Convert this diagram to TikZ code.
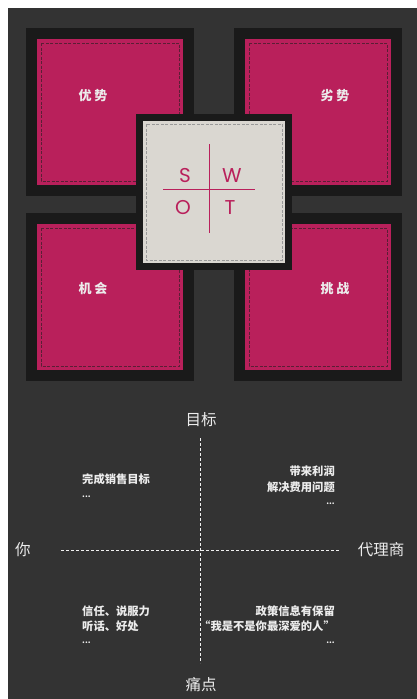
\documentclass[tikz,border=0pt]{standalone}
\usepackage{fontspec}
\setmainfont{Noto Sans CJK SC}
\newfontfamily\latinfont{Poppins}
\definecolor{bg}{HTML}{333333}
\definecolor{framec}{HTML}{1A1A1A}
\definecolor{rose}{HTML}{B9205B}
\definecolor{paper}{HTML}{DAD7D1}
\definecolor{txt}{HTML}{ECECEC}
\definecolor{stitch}{HTML}{5A1F35}
\tikzset{
  quadlabel/.style={text=txt, font=\bfseries\fontsize{13}{13}\selectfont, inner sep=0pt},
  axislabel/.style={text=txt, font=\fontsize{15.5}{16}\selectfont, inner sep=0pt},
  smalltxt/.style={text=txt, font=\bfseries\fontsize{11.3}{12}\selectfont, inner sep=0pt},
  dots/.style={text=txt!75, font=\bfseries\fontsize{8}{8}\selectfont, inner sep=0pt},
  swotletter/.style={text=rose, font=\latinfont\fontsize{20}{20}\selectfont, inner sep=0pt},
  axisline/.style={draw=txt!80, line width=0.8pt, dash pattern=on 3pt off 2pt},
  stitchline/.style={draw=stitch, line width=0.5pt, dash pattern=on 3pt off 1.5pt}
}
\begin{document}
\begin{tikzpicture}[x=1pt,y=-1pt]
\useasboundingbox (0,0) rectangle (417,699);
\fill[white] (0,0) rectangle (417,699);
\fill[bg] (8,8) rectangle (417,699);
% four pink squares
\foreach \x/\y in {26/28, 234/28, 26/213, 234/213}{
  \fill[framec] (\x,\y) rectangle ++(168,168);
  \fill[rose] (\x+11,\y+11) rectangle ++(146,146);
  \draw[stitchline] (\x+15,\y+15) rectangle ++(138,138);
}
% centre square
\fill[framec] (136,114) rectangle (292,270);
\fill[paper] (143,121) rectangle (285,263);
\draw[draw=gray!80, line width=0.5pt, dash pattern=on 3pt off 1.5pt] (146,124) rectangle (282,260);
\coordinate (vtop) at (209,144);
\coordinate (vbot) at (209,233);
\coordinate (hl) at (163,189);
\coordinate (hr) at (255,189);
\draw[rose, line width=0.9pt] (vtop) -- (vbot);
\draw[rose, line width=0.9pt] (hl) -- (hr);
\node[swotletter] (S) at (185,176) {S};
\node[swotletter] (W) at (232,176) {W};
\node[swotletter] (O) at (183,208) {O};
\node[swotletter] (T) at (230,208) {T};
% quadrant labels
\node[quadlabel] (you) at (93,96) {优\hspace{3pt}势};
\node[quadlabel] (lie) at (335,96) {劣\hspace{3pt}势};
\node[quadlabel] (ji) at (93,289) {机\hspace{3pt}会};
\node[quadlabel] (tiao) at (335,289) {挑\hspace{3pt}战};
% lower chart
\node[axislabel] (goal) at (201,420) {目标};
\node[axislabel] (pain) at (201,685) {痛点};
\node[axislabel] (ni) at (23,550) {你};
\node[axislabel] (agent) at (381,550) {代理商};
\coordinate (axt) at (200,438);
\coordinate (axb) at (200,663);
\coordinate (axl) at (61,550);
\coordinate (axr) at (340,550);
\draw[axisline] (axt) -- (axb);
\draw[axisline] (axl) -- (axr);
\node[smalltxt, anchor=west] (a1) at (82,479) {完成销售目标};
\node[dots, anchor=west] (a2) at (82,497) {...};
\node[smalltxt, anchor=east] (b1) at (335,471) {带来利润};
\node[smalltxt, anchor=east] (b2) at (335,487) {解决费用问题};
\node[dots, anchor=east] (b3) at (335,504) {...};
\node[smalltxt, anchor=west] (c1) at (82,611) {信任、说服力};
\node[smalltxt, anchor=west] (c2) at (82,626) {听话、好处};
\node[dots, anchor=west] (c3) at (82,643) {...};
\node[smalltxt, anchor=east] (d1) at (335,611) {政策信息有保留};
\node[smalltxt, anchor=east] (d2) at (335,626) {“我是不是你最深爱的人”};
\node[dots, anchor=east] (d3) at (335,643) {...};
\end{tikzpicture}
\end{document}
